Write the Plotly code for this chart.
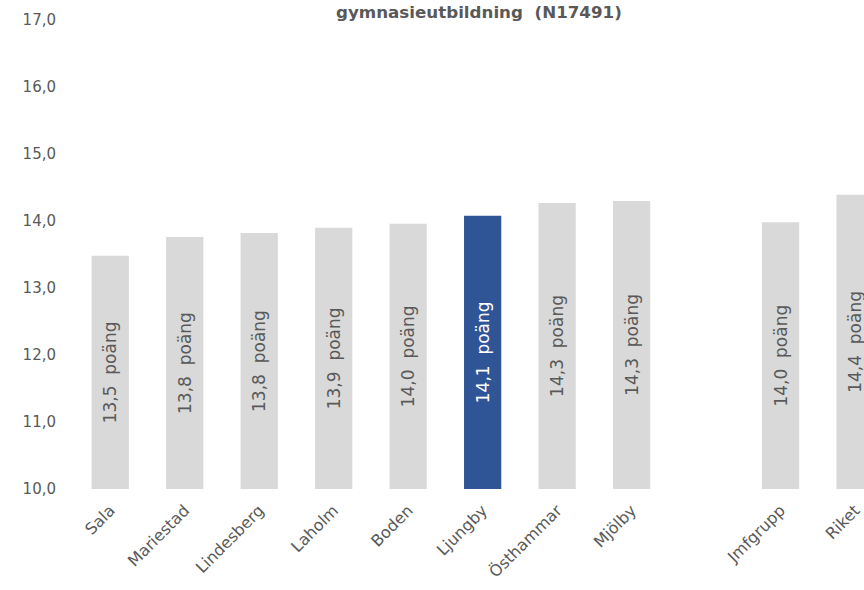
import plotly.graph_objects as go

categories = ["Sala", "Mariestad", "Lindesberg", "Laholm", "Boden", "Ljungby",
              "Östhammar", "Mjölby", " ", "Jmfgrupp", "Riket"]
values = [13.48, 13.76, 13.82, 13.9, 13.96, 14.08, 14.27, 14.3, None, 13.98, 14.39]
highlight = "Ljungby"
baseline = 10.0
y_ticks = [10, 11, 12, 13, 14, 15, 16, 17]
title_text = "<b>gymnasieutbildning  (N17491)</b>"

GRAY = "#D9D9D9"
BLUE = "#2F5597"
TXT = "#595959"

colors = [BLUE if c == highlight else GRAY for c in categories]
text_colors = ["white" if c == highlight else TXT for c in categories]
labels = ["" if v is None else f"{v:.1f}".replace(".", ",") + "  poäng" for v in values]
lengths = [None if v is None else v - baseline for v in values]

fig = go.Figure()
fig.add_trace(go.Bar(
    x=categories,
    y=lengths,
    base=baseline,
    marker=dict(color=colors, line=dict(width=0)),
    text=labels,
    textposition="inside",
    insidetextanchor="middle",
    textangle=-90,
    textfont=dict(family="DejaVu Sans", size=17, color=text_colors),
    constraintext="none",
    hoverinfo="skip",
))

fig.add_annotation(
    text=title_text, xref="paper", yref="paper",
    x=0.513, y=1.0426, xanchor="center", yanchor="top",
    showarrow=False, font=dict(family="DejaVu Sans", size=16.7, color=TXT),
)

fig.update_layout(
    width=864, height=590,
    margin=dict(l=73, r=0, t=20, b=101),
    paper_bgcolor="white", plot_bgcolor="white",
    separators=", ",
    bargap=0.5,
    showlegend=False,
    font=dict(family="DejaVu Sans", color=TXT),
)
fig.update_xaxes(
    type="category",
    categoryorder="array", categoryarray=categories,
    range=[-0.5, 10.12],
    tickangle=-45,
    tickfont=dict(family="DejaVu Sans", size=16, color=TXT),
    showgrid=False, showline=False, zeroline=False, ticks="",
    ticklabelstandoff=8,
)
fig.update_yaxes(
    range=[10, 17],
    tickvals=y_ticks,
    tickformat=".1f",
    tickfont=dict(family="DejaVu Sans", size=15, color=TXT),
    showgrid=False, showline=False, zeroline=False, ticks="",
    ticklabelstandoff=16,
)

fig.write_html("out.html", config={"displayModeBar": False},
               post_script="document.body.style.margin='0';")
